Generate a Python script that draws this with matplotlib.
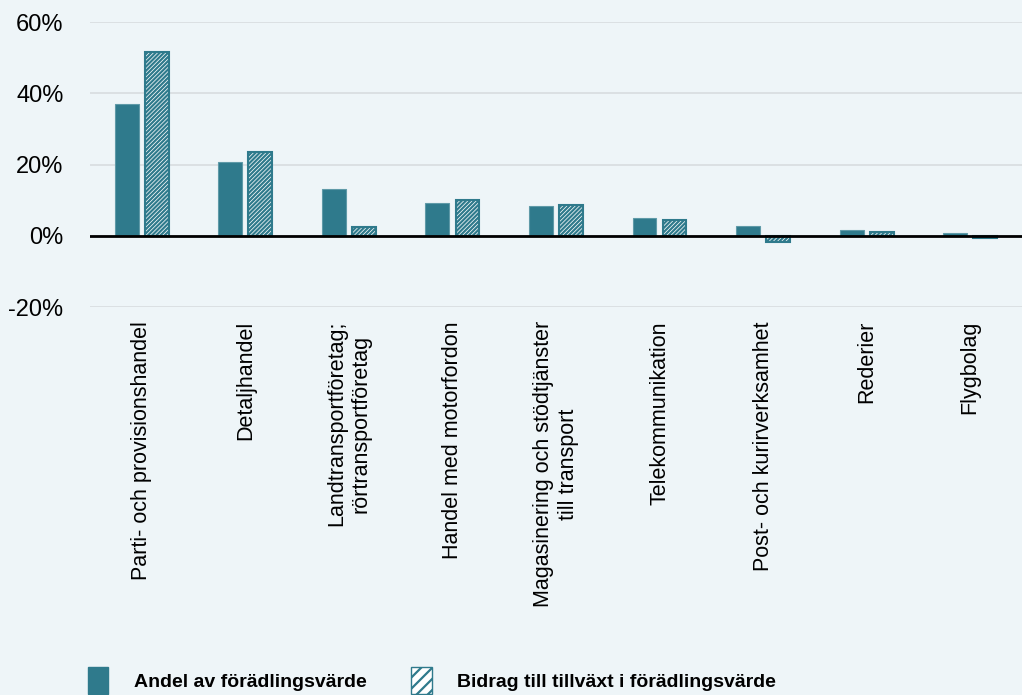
import matplotlib.pyplot as plt
import matplotlib.patches as mpatches
import numpy as np

plt.rcParams["font.family"] = ["Liberation Sans", "DejaVu Sans"]
plt.rcParams["hatch.linewidth"] = 1.6

categories = [
    "Parti- och provisionshandel",
    "Detaljhandel",
    "Landtransportföretag;\nrörtransportföretag",
    "Handel med motorfordon",
    "Magasinering och stödtjänster\ntill transport",
    "Telekommunikation",
    "Post- och kurirverksamhet",
    "Rederier",
    "Flygbolag",
]
andel = [37.0, 20.8, 13.2, 9.2, 8.4, 5.0, 2.8, 1.7, 0.7]
bidrag = [51.6, 23.6, 2.5, 10.1, 8.7, 4.5, -1.8, 1.1, -0.6]
yticks = [-20, 0, 20, 40, 60]

teal = "#2f7a8c"
bg = "#eef5f8"

fig = plt.figure(figsize=(10.22, 6.95), dpi=100, facecolor=bg)
ax = fig.add_axes([0.088, 0.558, 0.912, 0.41], facecolor=bg)

x = np.arange(len(categories))
w = 0.23
off = 0.145
ax.bar(x - off, andel, w, color=teal, edgecolor="#5f9aa8", linewidth=0.8, zorder=3)
ax.bar(x + off, bidrag, w, color="white", edgecolor=teal, hatch="////////",
       linewidth=1.5, zorder=3)

ax.set_xlim(-0.5, len(categories) - 0.5)
ax.set_ylim(-20, 60)
ax.set_yticks(yticks)
ax.set_yticklabels([f"{v}%" for v in yticks], fontsize=17)
ax.yaxis.grid(True, color="#d8dcdf", linewidth=1.2, zorder=0)
ax.axhline(0, color="black", linewidth=2, zorder=4)
for s in ax.spines.values():
    s.set_visible(False)
ax.tick_params(axis="y", length=0, pad=19)
ax.tick_params(axis="x", length=0, pad=10)
ax.set_xticks(x)
ax.set_xticklabels(categories, rotation=90, fontsize=15.5, va="top", ha="center",
                   multialignment="center")

handles = [
    mpatches.Patch(facecolor=teal, edgecolor=teal),
    mpatches.Patch(facecolor="white", edgecolor=teal, hatch="///"),
]
fig.legend(handles, ["Andel av förädlingsvärde", "Bidrag till tillväxt i förädlingsvärde"],
           loc="lower left", bbox_to_anchor=(0.069, -0.024), ncol=2, frameon=False,
           prop={"weight": "bold", "size": 14}, handlelength=1.05, handleheight=1.8,
           handletextpad=1.3, columnspacing=2.3)

fig.savefig("out.png", dpi=100, facecolor=bg)
